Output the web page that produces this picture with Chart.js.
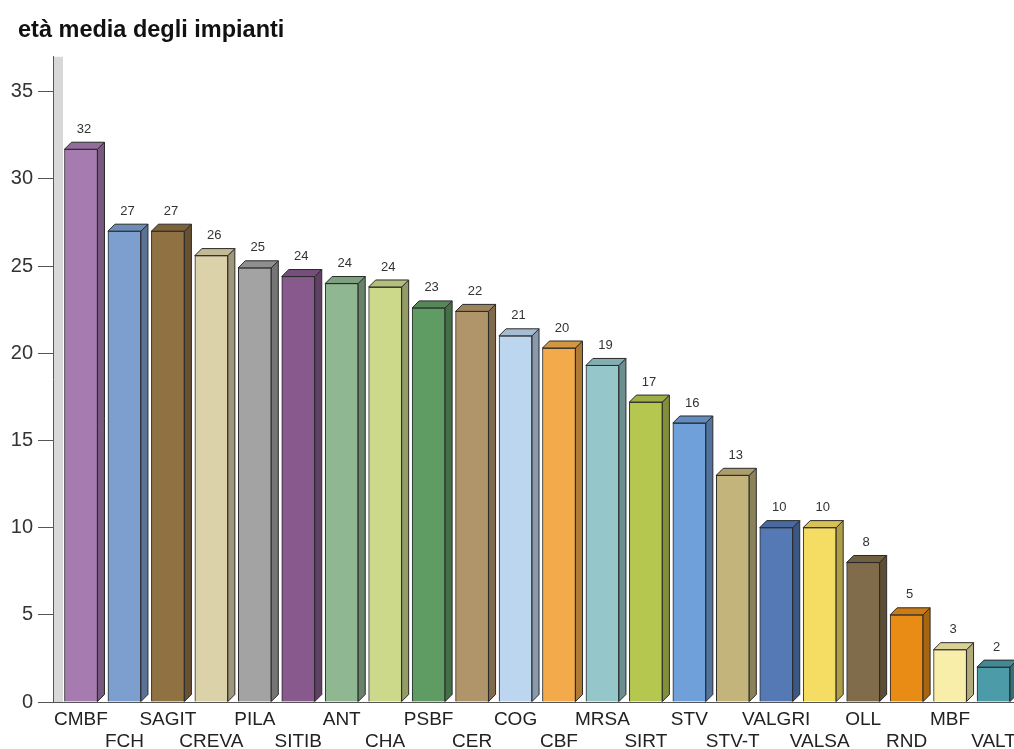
<!DOCTYPE html>
<html>
<head>
<meta charset="utf-8">
<script src="https://cdn.jsdelivr.net/npm/chart.js@4.4.1/dist/chart.umd.min.js"></script>
<style>
  html, body { margin: 0; padding: 0; background: #fff; overflow: hidden; }
  #wrap { width: 1060px; height: 749px; position: relative; }
</style>
</head>
<body>
<div id="wrap"><canvas id="myChart"></canvas></div>
<script>
// data
const categories = ['CMBF', 'FCH', 'SAGIT', 'CREVA', 'PILA', 'SITIB', 'ANT', 'CHA', 'PSBF', 'CER', 'COG',
  'CBF', 'MRSA', 'SIRT', 'STV', 'STV-T', 'VALGRI', 'VALSA', 'OLL', 'RND', 'MBF', 'VALT'];
const ages = [31.7, 27.0, 27.0, 25.6, 24.9, 24.4, 24.0, 23.8, 22.6, 22.4, 21.0,
  20.3, 19.3, 17.2, 16.0, 13.0, 10.0, 10.0, 8.0, 5.0, 3.0, 2.0];
const ageLabels = ['32', '27', '27', '26', '25', '24', '24', '24', '23', '22', '21',
  '20', '19', '17', '16', '13', '10', '10', '8', '5', '3', '2'];
const yTicks = [0, 5, 10, 15, 20, 25, 30, 35];

const barColors = ['#a67bb0', '#7c9fcf', '#8f7142', '#dcd2a9', '#a3a3a3', '#87598c', '#8fb892', '#ccd98b',
  '#5f9c63', '#b0956a', '#bdd6ef', '#f2aa4b', '#95c6c9', '#b5c74f', '#70a0da', '#c3b47b',
  '#5479b5', '#f5dc62', '#806c4b', '#e98c15', '#f8eda9', '#4b9ba9'];

const FONT = "'Liberation Sans', Arial, sans-serif";
const DEPTH = 7;

function shade(hex, f) {
  const n = parseInt(hex.slice(1), 16);
  const r = Math.round(((n >> 16) & 255) * f);
  const g = Math.round(((n >> 8) & 255) * f);
  const b = Math.round((n & 255) * f);
  return 'rgb(' + r + ',' + g + ',' + b + ')';
}

// back wall + 3d faces + value labels
const bars3d = {
  id: 'bars3d',
  afterLayout(chart) {
    // title starts a bit in from the left edge
    if (chart.titleBlock) chart.titleBlock.left = 18;
  },
  beforeDatasetsDraw(chart) {
    const {ctx, chartArea} = chart;
    ctx.save();
    ctx.fillStyle = '#d8d8d8';
    ctx.fillRect(chartArea.left + 1, chartArea.top, 9, chartArea.bottom - chartArea.top);
    ctx.restore();
  },
  afterDatasetsDraw(chart) {
    const {ctx} = chart;
    const meta = chart.getDatasetMeta(0);
    ctx.save();
    ctx.lineWidth = 1;
    ctx.strokeStyle = '#2a2a2a';
    meta.data.forEach((bar, i) => {
      const {x, y, base, width} = bar.getProps(['x', 'y', 'base', 'width'], true);
      const l = x - width / 2, r = x + width / 2;
      const c = barColors[i];
      // side
      ctx.beginPath();
      ctx.moveTo(r, y);
      ctx.lineTo(r + DEPTH, y - DEPTH);
      ctx.lineTo(r + DEPTH, base - DEPTH);
      ctx.lineTo(r, base);
      ctx.closePath();
      ctx.fillStyle = shade(c, 0.72);
      ctx.fill();
      ctx.stroke();
      // top
      ctx.beginPath();
      ctx.moveTo(l, y);
      ctx.lineTo(l + DEPTH, y - DEPTH);
      ctx.lineTo(r + DEPTH, y - DEPTH);
      ctx.lineTo(r, y);
      ctx.closePath();
      ctx.fillStyle = shade(c, 0.88);
      ctx.fill();
      ctx.stroke();
      // value
      ctx.fillStyle = '#333';
      ctx.font = '13px ' + FONT;
      ctx.textAlign = 'center';
      ctx.textBaseline = 'middle';
      ctx.fillText(ageLabels[i], x + 3, y - DEPTH - 13);
    });
    ctx.restore();
  }
};

const config = {
  type: 'bar',
  data: {
    datasets: [{
      data: ages.map((v, i) => ({x: i, y: v})),
      backgroundColor: barColors,
      borderColor: '#2a2a2a',
      borderWidth: 1,
      barThickness: 33
    }]
  },
  options: {
    responsive: true,
    maintainAspectRatio: false,
    animation: false,
    layout: { padding: 0 },
    plugins: {
      legend: { display: false },
      tooltip: { enabled: false },
      title: {
        display: true,
        text: 'età media degli impianti',
        align: 'start',
        color: '#111',
        font: { family: FONT, size: 23.5, weight: 'bold' },
        padding: { top: 16, bottom: 12.6 }
      }
    },
    scales: {
      x: {
        type: 'linear',
        offset: false,
        min: -0.644,
        max: 22.53,
        afterBuildTicks: (scale) => { scale.ticks = categories.map((_, i) => ({value: i})); },
        afterFit: (scale) => { scale.height = 47; },
        grid: { display: false, drawTicks: false },
        border: { color: '#555', width: 1 },
        ticks: {
          autoSkip: false,
          maxRotation: 0,
          minRotation: 0,
          padding: 7,
          color: '#222',
          font: { family: FONT, size: 19, lineHeight: 1.16 },
          callback: (value, index) => index % 2 ? ['', categories[index]] : [categories[index]]
        }
      },
      y: {
        min: 0,
        max: 37,
        afterBuildTicks: (scale) => { scale.ticks = yTicks.map(v => ({value: v})); },
        afterFit: (scale) => { scale.width = 53; },
        grid: { drawOnChartArea: false, tickLength: 15, color: '#555' },
        border: { color: '#555', width: 1 },
        ticks: {
          padding: 5,
          color: '#333',
          font: { family: FONT, size: 20 }
        }
      }
    }
  },
  plugins: [bars3d]
};

const myChart = new Chart(document.getElementById('myChart'), config);
</script>
</body>
</html>
